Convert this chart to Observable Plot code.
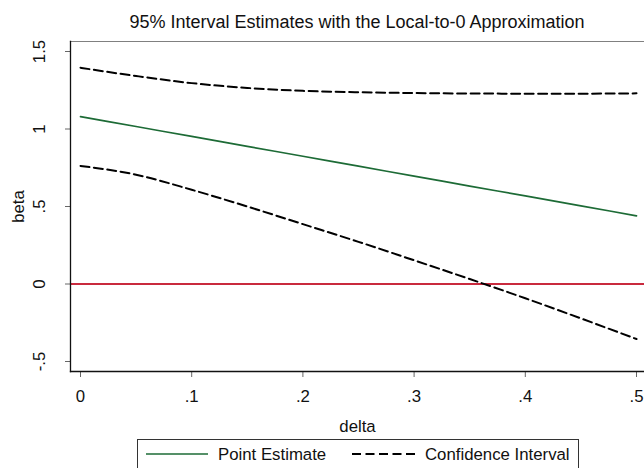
<!DOCTYPE html>
<html>
<head>
<meta charset="utf-8">
<script src="https://cdn.jsdelivr.net/npm/d3@7"></script>
<script src="https://cdn.jsdelivr.net/npm/@observablehq/plot@0.6"></script>
<style>
  html, body { margin: 0; padding: 0; background: #fff; overflow: hidden; }
  #wrap { position: relative; width: 644px; height: 468px; font-family: "Liberation Sans", Arial, Helvetica, sans-serif; color: #111; }
  #wrap svg.plot { position: absolute; left: 0; top: 0; }
  #title { position: absolute; left: 70px; width: 574px; top: 13px; text-align: center; font-size: 18px; line-height: 18px; white-space: nowrap; }
  #legend { position: absolute; left: 137px; top: 439px; width: 442px; height: 40px; box-sizing: border-box; border: 1px solid #333; background: #fff; }
  #legend .sw { position: absolute; top: 12px; }
  #legend .lab { position: absolute; top: 6px; font-size: 16.8px; line-height: 17px; white-space: nowrap; }
</style>
</head>
<body>
<div id="wrap">
  <div id="title"></div>
  <div id="legend"></div>
</div>
<script>
// ---- data ----
const titleText = "95% Interval Estimates with the Local-to-0 Approximation";
const xLabel = "delta";
const yLabel = "beta";
const delta    = [0, 0.05, 0.1, 0.15, 0.2, 0.25, 0.3, 0.35, 0.4, 0.45, 0.5];
const pointEst = [1.08, 1.016, 0.952, 0.888, 0.824, 0.76, 0.696, 0.632, 0.568, 0.504, 0.44];
const ciUpper  = [1.395, 1.342, 1.296, 1.265, 1.246, 1.237, 1.232, 1.229, 1.228, 1.228, 1.230];
const ciLower  = [0.762, 0.705, 0.608, 0.500, 0.386, 0.272, 0.153, 0.032, -0.092, -0.222, -0.355];
const refLine  = [0];
const xTicks = [0, 0.1, 0.2, 0.3, 0.4, 0.5];
const xTickLabels = ["0", ".1", ".2", ".3", ".4", ".5"];
const yTicks = [-0.5, 0, 0.5, 1, 1.5];
const yTickLabels = ["-.5", "0", ".5", "1", "1.5"];
const legendLabels = ["Point Estimate", "Confidence Interval"];

// ---- colours / styles ----
const green = "#1d6b36";
const red = "#c92a3e";
const dash = "9,4.5";

const rows = delta.map((d, i) => ({delta: d, est: pointEst[i], lo: ciLower[i], hi: ciUpper[i]}));

const font = '"Liberation Sans", Arial, Helvetica, sans-serif';
const fs = 16.8;

const chart = Plot.plot({
  width: 644,
  height: 468,
  marginTop: 41,
  marginBottom: 97,
  marginLeft: 70,
  marginRight: 0,
  style: {fontFamily: font, fontSize: fs + "px", color: "#111", background: "transparent"},
  x: {domain: [0, 0.5], insetLeft: 10, insetRight: 8},
  y: {domain: [-0.5, 1.5], insetTop: 10, insetBottom: 10},
  marks: [
    Plot.frame({anchor: "top", stroke: "#808080", strokeWidth: 1.2}),
    Plot.axisY({ticks: yTicks, tickSize: 5, text: null, stroke: "#666", label: null}),
    Plot.axisX({ticks: xTicks, tickSize: 6, text: null, stroke: "#666", label: null}),
    Plot.text(yTicks, {y: d => d, text: (d, i) => yTickLabels[i], frameAnchor: "left", dx: -31, rotate: -90, textAnchor: "middle", lineAnchor: "middle", fontSize: fs, fill: "#111"}),
    Plot.text(xTicks, {x: d => d, text: (d, i) => xTickLabels[i], frameAnchor: "bottom", dy: 25.3, textAnchor: "middle", lineAnchor: "middle", fontSize: fs, fill: "#111"}),
    Plot.text([xLabel], {frameAnchor: "bottom", dy: 55, textAnchor: "middle", lineAnchor: "middle", fontSize: fs, fill: "#111"}),
    Plot.text([yLabel], {frameAnchor: "left", dx: -52, rotate: -90, textAnchor: "middle", lineAnchor: "middle", fontSize: fs, fill: "#111"}),
    Plot.ruleY(refLine, {stroke: red, strokeWidth: 2}),
    Plot.line(rows, {x: "delta", y: "hi", stroke: "#000", strokeWidth: 2, strokeDasharray: dash, curve: "monotone-x"}),
    Plot.line(rows, {x: "delta", y: "lo", stroke: "#000", strokeWidth: 2, strokeDasharray: dash, curve: "monotone-x"}),
    Plot.line(rows, {x: "delta", y: "est", stroke: green, strokeWidth: 1.7, curve: "monotone-x"}),
    Plot.frame({anchor: "left", stroke: "#111", strokeWidth: 1.3}),
    Plot.frame({anchor: "bottom", stroke: "#111", strokeWidth: 1.3})
  ]
});
chart.classList.add("plot");
const wrap = document.getElementById("wrap");
wrap.insertBefore(chart, wrap.firstChild);

document.getElementById("title").textContent = titleText;

// legend
const legend = document.getElementById("legend");
const svgNS = "http://www.w3.org/2000/svg";
function swatch(left, width, color, sw, dasharray) {
  const s = document.createElementNS(svgNS, "svg");
  s.setAttribute("class", "sw");
  s.setAttribute("width", width);
  s.setAttribute("height", 4);
  s.style.left = left + "px";
  const l = document.createElementNS(svgNS, "line");
  l.setAttribute("x1", 0); l.setAttribute("x2", width);
  l.setAttribute("y1", 2); l.setAttribute("y2", 2);
  l.setAttribute("stroke", color);
  l.setAttribute("stroke-width", sw);
  if (dasharray) l.setAttribute("stroke-dasharray", dasharray);
  s.appendChild(l);
  legend.appendChild(s);
}
function label(left, text) {
  const d = document.createElement("div");
  d.className = "lab";
  d.style.left = left + "px";
  d.textContent = text;
  legend.appendChild(d);
}
swatch(8, 62, green, 1.7, null);
label(80, legendLabels[0]);
swatch(214, 63, "#000", 2, dash);
label(287, legendLabels[1]);
</script>
</body>
</html>
